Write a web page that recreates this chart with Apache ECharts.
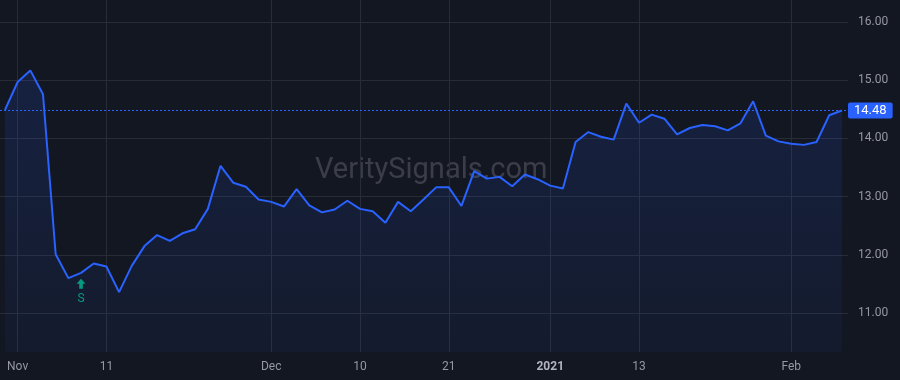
<!DOCTYPE html>
<html>
<head>
<meta charset="utf-8">
<script src="https://cdn.jsdelivr.net/npm/echarts@6/dist/echarts.min.js"></script>
<style>
  html, body { margin: 0; padding: 0; background: #131722; }
  #main { width: 900px; height: 380px; }
</style>
</head>
<body>
<div id="main"></div>
<script>
// trading days, Oct 30 2020 .. Feb 5 2021
var dates = [
  '2020-10-30', '2020-11-02', '2020-11-03', '2020-11-04', '2020-11-05', '2020-11-06',
  '2020-11-09', '2020-11-10', '2020-11-11', '2020-11-12', '2020-11-13', '2020-11-16',
  '2020-11-17', '2020-11-18', '2020-11-19', '2020-11-20', '2020-11-23', '2020-11-24',
  '2020-11-25', '2020-11-27', '2020-11-30', '2020-12-01', '2020-12-02', '2020-12-03',
  '2020-12-04', '2020-12-07', '2020-12-08', '2020-12-09', '2020-12-10', '2020-12-11',
  '2020-12-14', '2020-12-15', '2020-12-16', '2020-12-17', '2020-12-18', '2020-12-21',
  '2020-12-22', '2020-12-23', '2020-12-24', '2020-12-28', '2020-12-29', '2020-12-30',
  '2020-12-31', '2021-01-04', '2021-01-05', '2021-01-06', '2021-01-07', '2021-01-08',
  '2021-01-11', '2021-01-12', '2021-01-13', '2021-01-14', '2021-01-15', '2021-01-19',
  '2021-01-20', '2021-01-21', '2021-01-22', '2021-01-25', '2021-01-26', '2021-01-27',
  '2021-01-28', '2021-01-29', '2021-02-01', '2021-02-02', '2021-02-03', '2021-02-04',
  '2021-02-05'
];
var prices = [
  14.49, 14.97, 15.17, 14.76, 12.01, 11.60, 11.69, 11.85, 11.80, 11.36,
  11.81, 12.15, 12.34, 12.24, 12.37, 12.44, 12.79, 13.53, 13.24, 13.17,
  12.95, 12.91, 12.83, 13.13, 12.85, 12.73, 12.78, 12.93, 12.79, 12.75,
  12.55, 12.91, 12.75, 12.95, 13.16, 13.16, 12.84, 13.44, 13.31, 13.34,
  13.18, 13.38, 13.30, 13.19, 13.14, 13.94, 14.11, 14.03, 13.98, 14.60,
  14.27, 14.41, 14.34, 14.07, 14.18, 14.23, 14.21, 14.14, 14.26, 14.64,
  14.05, 13.95, 13.91, 13.89, 13.94, 14.40, 14.48
];
// x-axis labels and the day index they sit on
var xTickIdx = [1, 8, 21, 28, 35, 43, 50, 62];
var xTickLabels = ['Nov', '11', 'Dec', '10', '21', '2021', '13', 'Feb'];
var yTicks = [11, 12, 13, 14, 15, 16];
var lastPrice = 14.48;
var signalIdx = 6;   // buy signal "S"

var chart = echarts.init(document.getElementById('main'));

var seriesData = prices.map(function (v, i) { return [i, v]; });
var font = 'Roboto, "Liberation Sans", sans-serif';

chart.setOption({
  backgroundColor: '#131722',
  animation: false,
  grid: { left: 0, right: 52, top: 0, bottom: 28, containLabel: false },
  graphic: [{
    type: 'text',
    left: 315,
    top: 156,
    z: 0,
    style: {
      text: 'VeritySignals.com',
      fill: 'rgba(178,181,190,0.25)',
      font: '29px ' + font
    }
  }],
  xAxis: {
    type: 'value',
    min: -0.39,
    max: 66.48,
    axisLine: { show: false },
    axisTick: { show: false, customValues: xTickIdx },
    splitLine: { show: true, lineStyle: { color: '#282c37', width: 1 } },
    axisLabel: {
      customValues: xTickIdx,
      margin: 9,
      color: '#9598a1',
      fontSize: 12,
      fontFamily: font,
      formatter: function (v) {
        var k = xTickIdx.indexOf(Math.round(v));
        var s = k >= 0 ? xTickLabels[k] : '';
        return s === '2021' ? '{b|' + s + '}' : s;
      },
      rich: {
        b: { fontWeight: 'bold', color: '#b2b5be', fontSize: 12, fontFamily: font }
      }
    }
  },
  yAxis: {
    type: 'value',
    position: 'right',
    min: 10.33,
    max: 16.38,
    axisLine: { show: false },
    axisTick: { show: false, customValues: yTicks },
    splitLine: { show: true, lineStyle: { color: '#282c37', width: 1 } },
    axisLabel: {
      customValues: yTicks,
      margin: 10,
      color: '#9598a1',
      fontSize: 12,
      fontFamily: font,
      formatter: function (v) { return v.toFixed(2); }
    }
  },
  series: [{
    type: 'line',
    data: seriesData,
    symbol: 'none',
    z: 3,
    lineStyle: { color: '#2962ff', width: 2 },
    areaStyle: {
      origin: 'start',
      color: new echarts.graphic.LinearGradient(0, 0, 0, 1, [
        { offset: 0, color: 'rgba(41,98,255,0.20)' },
        { offset: 1, color: 'rgba(41,98,255,0.07)' }
      ])
    },
    markLine: {
      silent: true,
      symbol: 'none',
      lineStyle: { color: '#2962ff', type: [2, 2], width: 1 },
      label: {
        show: true,
        position: 'end',
        distance: 0,
        formatter: function (p) { return p.value.toFixed(2); },
        color: '#ffffff',
        backgroundColor: '#2962ff',
        fontSize: 13,
        fontFamily: font,
        padding: [2, 6, 1, 6],
        borderRadius: 2,
        align: 'left'
      },
      data: [{ yAxis: lastPrice }]
    },
    markPoint: {
      silent: true,
      data: [{
        coord: [signalIdx, prices[signalIdx]],
        symbol: 'path://M5,0 L10,5 L7,5 L7,10 L3,10 L3,5 L0,5 Z',
        symbolSize: [9, 10],
        symbolOffset: [0, 11],
        itemStyle: { color: '#089981' },
        label: {
          show: true,
          formatter: 'S',
          position: 'bottom',
          distance: 4,
          color: '#089981',
          fontSize: 12,
          fontFamily: font
        }
      }]
    }
  }]
});
</script>
</body>
</html>
